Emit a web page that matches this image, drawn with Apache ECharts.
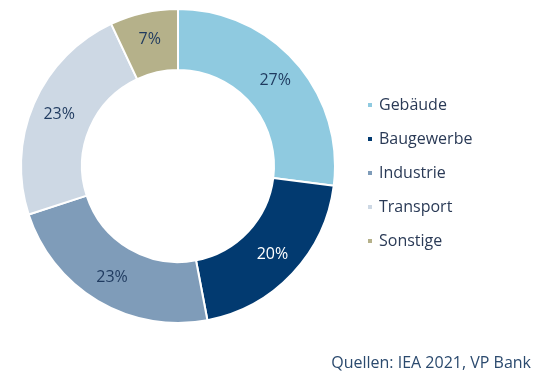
<!DOCTYPE html>
<html><head><meta charset="utf-8">
<script src="https://cdn.jsdelivr.net/npm/echarts@6/dist/echarts.min.js"></script>
<style>html,body{margin:0;padding:0;background:#fff}#c{width:540px;height:378px}</style>
</head><body><div id="c"></div>
<script>
const categories = ['Gebäude', 'Baugewerbe', 'Industrie', 'Transport', 'Sonstige'];
const values = [27, 20, 23, 23, 7];
const colors = ['#8fcae0', '#023a70', '#7f9cb9', '#cdd8e4', '#b5b18a'];
const labelColors = ['#1f3a5f', '#ffffff', '#1f3a5f', '#1f3a5f', '#1f3a5f'];
const sourceText = 'Quellen: IEA 2021, VP Bank';

const chart = echarts.init(document.getElementById('c'), null, {renderer: 'canvas'});
chart.setOption({
  animation: false,
  textStyle: {fontFamily: 'Open Sans'},
  legend: {
    orient: 'vertical',
    left: 361, top: 92,
    itemWidth: 6, itemHeight: 6, itemGap: 18,
    icon: 'rect',
    textStyle: {fontSize: 16, color: '#2a3a56', fontFamily: 'Open Sans', padding: [0,0,0,1]},
    data: categories
  },
  graphic: [{
    type: 'text', right: 9, top: 355,
    style: {text: sourceText, fontSize: 16, fill: '#2b4a6e', fontFamily: 'Open Sans'}
  }],
  series: [{
    type: 'pie',
    center: [178, 166],
    radius: [96, 157],
    startAngle: 90,
    clockwise: true,
    avoidLabelOverlap: false,
    itemStyle: {borderColor: '#fff', borderWidth: 2},
    label: {
      position: 'inside',
      fontSize: 16,
      fontFamily: 'Open Sans',
      formatter: p => p.value + '%'
    },
    labelLine: {show: false},
    data: categories.map((n, i) => ({
      name: n, value: values[i],
      itemStyle: {color: colors[i]},
      label: {color: labelColors[i]}
    }))
  }]
});
</script></body></html>
